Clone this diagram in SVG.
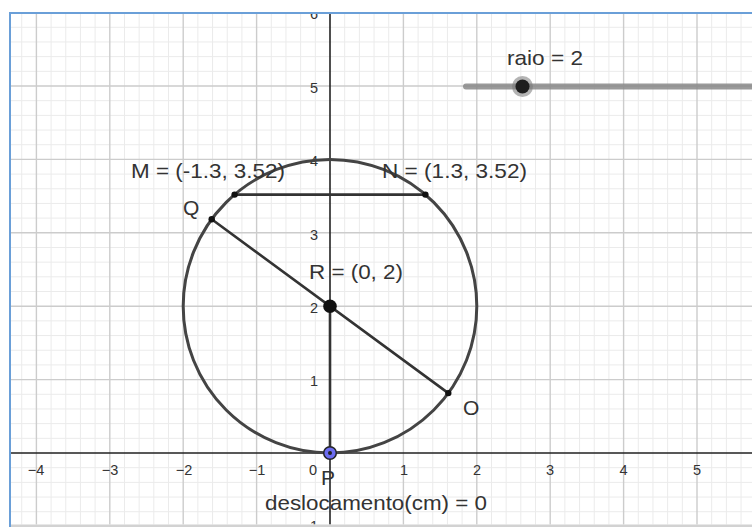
<svg xmlns="http://www.w3.org/2000/svg" width="752" height="527" viewBox="0 0 752 527">
<defs>
<clipPath id="plot"><rect x="10" y="13" width="742" height="511.5"/></clipPath>
<style>
.minor{stroke:#ebebeb;stroke-width:1;fill:none}
.major{stroke:#cccccc;stroke-width:1.4;fill:none}
.axis{stroke:#222;stroke-width:1.6;fill:none}
.seg{stroke:#333;stroke-width:2.6;fill:none;stroke-linecap:round}
.num{font-family:"Liberation Sans",Arial,sans-serif;font-size:14.5px;fill:#333}
.xn{text-anchor:middle}
.yn{text-anchor:end}
.lbl{font-family:"Liberation Sans",Arial,sans-serif;font-size:21px;fill:#333}
.pt{fill:#111}
</style>
</defs>
<rect x="0" y="0" width="752" height="527" fill="#ffffff"/>
<g id="grid" clip-path="url(#plot)">
<path class="minor" d="M21.72 13V525M51.08 13V525M65.76 13V525M80.44 13V525M95.12 13V525M124.48 13V525M139.16 13V525M153.84 13V525M168.52 13V525M197.88 13V525M212.56 13V525M227.24 13V525M241.92 13V525M271.28 13V525M285.96 13V525M300.64 13V525M315.32 13V525M344.68 13V525M359.36 13V525M374.04 13V525M388.72 13V525M418.08 13V525M432.76 13V525M447.44 13V525M462.12 13V525M491.48 13V525M506.16 13V525M520.84 13V525M535.52 13V525M564.88 13V525M579.56 13V525M594.24 13V525M608.92 13V525M638.28 13V525M652.96 13V525M667.64 13V525M682.32 13V525M711.68 13V525M726.36 13V525M741.04 13V525"/>
<path class="minor" d="M10 511.72H752M10 497.04H752M10 482.36H752M10 467.68H752M10 438.32H752M10 423.64H752M10 408.96H752M10 394.28H752M10 364.92H752M10 350.24H752M10 335.56H752M10 320.88H752M10 291.52H752M10 276.84H752M10 262.16H752M10 247.48H752M10 218.12H752M10 203.44H752M10 188.76H752M10 174.08H752M10 144.72H752M10 130.04H752M10 115.36H752M10 100.68H752M10 71.32H752M10 56.64H752M10 41.96H752M10 27.28H752"/>
<path class="major" d="M36.4 13V525M109.8 13V525M183.2 13V525M256.6 13V525M403.4 13V525M476.8 13V525M550.2 13V525M623.6 13V525M697 13V525"/>
<path class="major" d="M10 379.6H752M10 306.2H752M10 232.8H752M10 159.4H752M10 86H752"/>
<path class="axis" d="M10 453H752M330 13V525"/>
<g id="axis-labels">
<text class="num xn" x="36" y="475">−4</text>
<text class="num xn" x="110" y="475">−3</text>
<text class="num xn" x="184" y="475">−2</text>
<text class="num xn" x="257" y="475">−1</text>
<text class="num xn" x="313" y="475">0</text>
<text class="num xn" x="404" y="475">1</text>
<text class="num xn" x="477" y="475">2</text>
<text class="num xn" x="550" y="475">3</text>
<text class="num xn" x="623.5" y="475">4</text>
<text class="num xn" x="697" y="475">5</text>
<text class="num yn" x="318" y="19">6</text>
<text class="num yn" x="318" y="93">5</text>
<text class="num yn" x="318" y="166">4</text>
<text class="num yn" x="318" y="240">3</text>
<text class="num yn" x="318" y="313">2</text>
<text class="num yn" x="318" y="386">1</text>
<text class="num yn" x="318" y="531">−1</text>
</g>
</g>
<g id="frame">
<line x1="9" y1="13" x2="752" y2="13" stroke="#6a9fd8" stroke-width="2"/>
<line x1="10" y1="12" x2="10" y2="527" stroke="#6a9fd8" stroke-width="2"/>
<rect x="11" y="524.5" width="741" height="2.5" fill="#d2d2d2"/>
</g>
<g id="slider">
<line x1="466" y1="86.5" x2="760" y2="86.5" stroke="#888" stroke-opacity="0.85" stroke-width="6" stroke-linecap="round"/>
<circle cx="522.5" cy="86.5" r="10.5" fill="#777" fill-opacity="0.55"/>
<circle cx="522.5" cy="86.5" r="7" fill="#1e1e1e"/>
<text class="lbl" x="507" y="65" textLength="76" lengthAdjust="spacingAndGlyphs">raio = 2</text>
</g>
<g id="circle">
<circle cx="330" cy="306.2" r="146.8" fill="none" stroke="#444" stroke-width="3"/>
</g>
<g id="connectors">
<line class="seg" x1="234.6" y1="194.6" x2="425.4" y2="194.6"/>
<line class="seg" x1="211.7" y1="219.3" x2="448.3" y2="393.1"/>
<line class="seg" x1="330" y1="306.2" x2="330" y2="453" stroke="#222" stroke-width="3"/>
</g>
<g id="M">
<circle class="pt" cx="234.6" cy="194.6" r="3.2"/>
<text class="lbl" x="131" y="178" textLength="154" lengthAdjust="spacingAndGlyphs">M = (-1.3, 3.52)</text>
</g>
<g id="N">
<circle class="pt" cx="425.4" cy="194.6" r="3.2"/>
<text class="lbl" x="382" y="178" textLength="145" lengthAdjust="spacingAndGlyphs">N = (1.3, 3.52)</text>
</g>
<g id="Q">
<circle class="pt" cx="211.7" cy="219.3" r="3.2"/>
<text class="lbl" x="183" y="215">Q</text>
</g>
<g id="O">
<circle class="pt" cx="448.3" cy="393.1" r="3.2"/>
<text class="lbl" x="463" y="415">O</text>
</g>
<g id="R">
<circle class="pt" cx="330" cy="306.2" r="6.8"/>
<text class="lbl" x="309" y="279" textLength="94" lengthAdjust="spacingAndGlyphs">R = (0, 2)</text>
</g>
<g id="P">
<circle cx="330" cy="453" r="6.3" fill="#6c6cf0" stroke="#222" stroke-width="1.5"/>
<circle cx="330" cy="453" r="2" fill="#222"/>
<text class="lbl" x="321" y="485">P</text>
</g>
<g id="deslocamento">
<text class="lbl" x="265" y="510" textLength="222" lengthAdjust="spacingAndGlyphs">deslocamento(cm) = 0</text>
</g>
</svg>
